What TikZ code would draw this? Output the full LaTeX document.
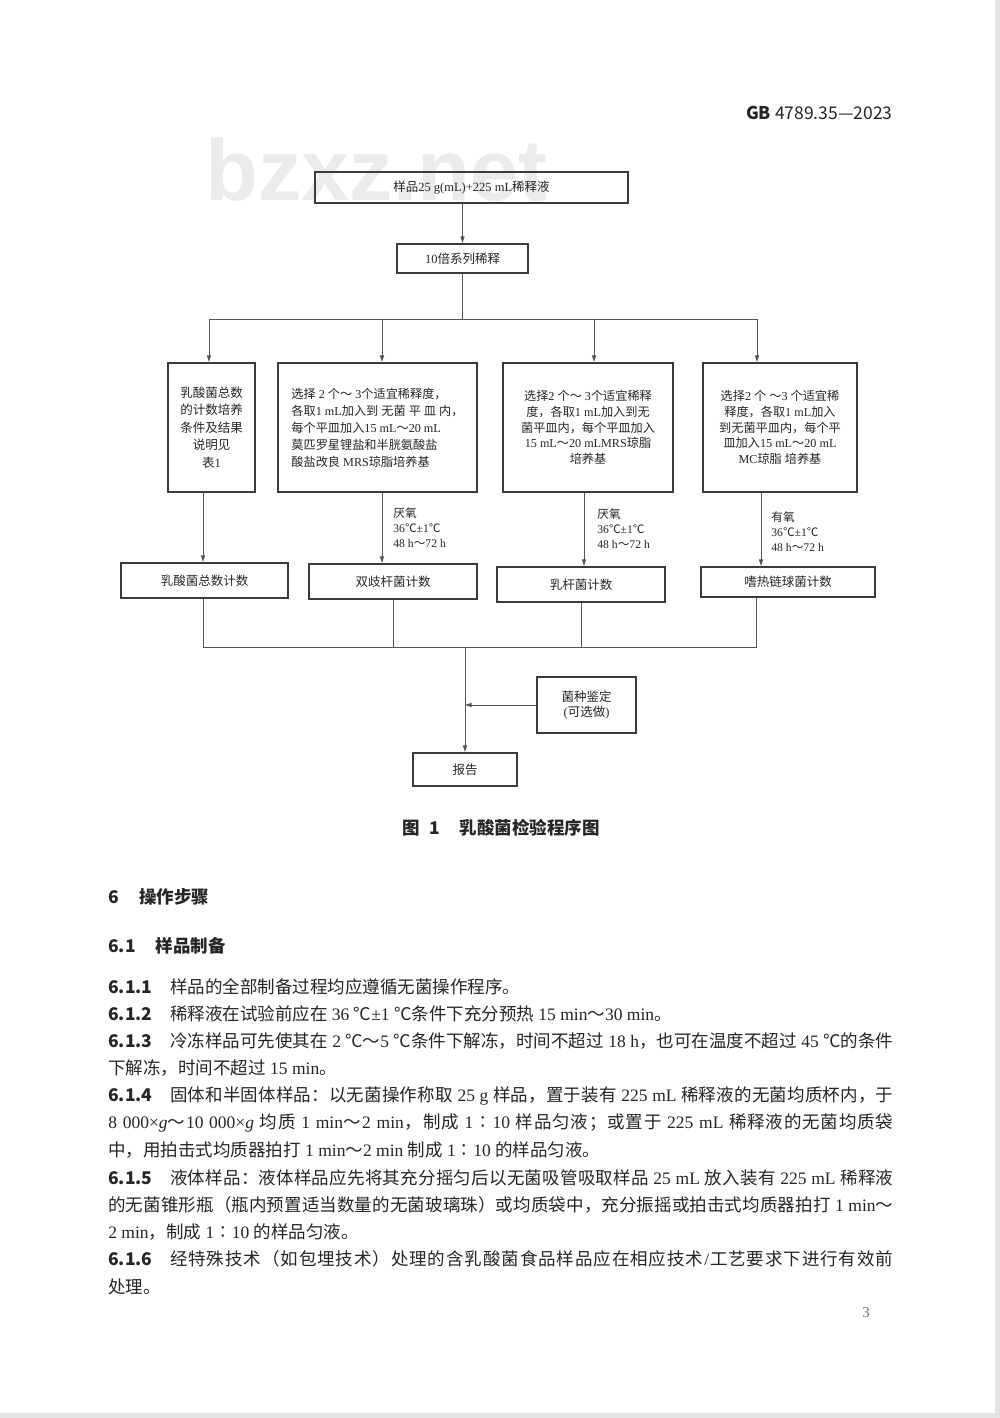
\documentclass[tikz,border=0pt]{standalone}
\usepackage{fontspec}
\usetikzlibrary{arrows.meta}
\setmainfont{Liberation Serif}
\newfontfamily\cjk{Noto Sans CJK SC}
\newfontfamily\lserif{Liberation Serif}
\newfontfamily\lsans{Liberation Sans}
\definecolor{boxc}{HTML}{3C3C3C}
\definecolor{linec}{HTML}{555555}
\definecolor{txtc}{HTML}{262626}
\definecolor{wmc}{HTML}{EBEBEB}
\definecolor{edgec}{HTML}{E4E4E4}
\definecolor{pgc}{HTML}{777777}

\makeatletter
\newXeTeXintercharclass\CJKcls
\count@="3000 \loop\ifnum\count@<"3040 \XeTeXcharclass\count@=\CJKcls\relax\advance\count@\@ne\repeat
\count@="4E00 \loop\ifnum\count@<"A000 \XeTeXcharclass\count@=\CJKcls\relax\advance\count@\@ne\repeat
\count@="FF00 \loop\ifnum\count@<"FFF0 \XeTeXcharclass\count@=\CJKcls\relax\advance\count@\@ne\repeat
\XeTeXcharclass"2103=\CJKcls\relax
\XeTeXcharclass"2236=\CJKcls\relax
\makeatother

\newcommand\latfont{\lserif}
\newcommand\cjkglue{\hskip 0pt plus 0.8pt minus 0.2pt\relax}
\XeTeXinterchartoks 0 \CJKcls = {\cjkglue\cjk}
\XeTeXinterchartoks 4095 \CJKcls = {\cjk}
\XeTeXinterchartoks \CJKcls 0 = {\cjkglue\latfont}
\XeTeXinterchartoks \CJKcls 4095 = {\latfont}
\XeTeXinterchartoks \CJKcls \CJKcls = {\cjkglue}
\XeTeXinterchartokenstate=1

\newcommand\dfont{\fontsize{7.5}{10.3}\selectfont}
\newcommand\lfont{\fontsize{7}{9}\selectfont}
\newcommand\bodyfont{\fontsize{10.5}{12}\selectfont}
\newcommand\parnum[1]{{\def\latfont{\cjk}\cjk\bfseries #1}\hspace{1em}}
\newcommand\jl[1]{\hbox to 471pt{#1}}

\begin{document}
\begin{tikzpicture}[x=0.6pt,y=-0.6pt,
  box/.style={draw=boxc, line width=1.1pt, inner sep=0pt, font=\dfont, text=txtc, align=center},
  conn/.style={draw=linec, line width=0.55pt},
  arr/.style={conn, -{Triangle[length=4pt,width=2.4pt]}},
  lab/.style={font=\lfont, align=left, inner sep=0pt, text=txtc, anchor=west},
  bodyl/.style={anchor=west, inner sep=0pt, text=txtc, font=\bodyfont},
]
\useasboundingbox (0,0) rectangle (1000,1418);
\fill[white] (0,0) rectangle (1000,1418);
% faint page edges of the scan
\fill[edgec] (995,0) rectangle (1000,1418);
\fill[edgec] (0,1413) rectangle (1000,1418);

% watermark
\node[anchor=base west, inner sep=0pt, text=wmc, font=\lsans\bfseries\fontsize{52}{52}\selectfont] (wm) at (205,200) {bzxz.net};

% header
\node[anchor=east, inner sep=0pt, text=txtc] (hdr) at (893,113) {\def\latfont{\cjk}\cjk\fontsize{10.5}{12}\selectfont{\bfseries GB} 4789.35—2023};

% flowchart boxes
\node[box, minimum width=187.8pt, minimum height=18.6pt] (s) at (471.5,187.5) {样品25 g(mL)+225 mL稀释液};
\node[box, minimum width=78.6pt, minimum height=17.4pt] (d) at (462.5,258.5) {10倍系列稀释};

\node[box, minimum width=52.2pt, minimum height=77.4pt, font=\fontsize{7.5}{10.5}\selectfont] (a) at (211.5,427.5) {乳酸菌总数\\的计数培养\\条件及结果\\说明见\\表1};
\node[box, minimum width=119.4pt, minimum height=77.4pt, align=left, font=\fontsize{7.3}{10.2}\selectfont] (b) at (377.5,427.5) {选择 2 个～ 3个适宜稀释度，\\各取1 mL加入到 无菌 平 皿 内，\\每个平皿加入15 mL～20 mL\\莫匹罗星锂盐和半胱氨酸盐\\酸盐改良 MRS琼脂培养基};
\node[box, minimum width=102pt, minimum height=77.4pt, font=\fontsize{7.3}{9.5}\selectfont] (c) at (588,427.5) {选择2 个～ 3个适宜稀释\\度，各取1 mL加入到无\\菌平皿内，每个平皿加入\\15 mL～20 mLMRS琼脂\\培养基};
\node[box, minimum width=92.4pt, minimum height=77.4pt, font=\fontsize{7.3}{9.5}\selectfont] (dd) at (780,427.5) {选择2 个 ～3 个适宜稀\\释度，各取1 mL加入\\到无菌平皿内，每个平\\皿加入15 mL～20 mL\\MC琼脂 培养基};

\node[box, minimum width=100.2pt, minimum height=21pt] (e) at (204.5,580.5) {乳酸菌总数计数};
\node[box, minimum width=100.8pt, minimum height=21pt] (f) at (393,581.5) {双歧杆菌计数};
\node[box, minimum width=100.8pt, minimum height=21pt] (g) at (581,584.5) {乳杆菌计数};
\node[box, minimum width=104.4pt, minimum height=18pt] (h) at (788,582) {嗜热链球菌计数};
\node[box, minimum width=59.4pt, minimum height=33.6pt, font=\fontsize{7.5}{9.3}\selectfont] (i) at (586.5,705) {菌种鉴定\\(可选做)};
\node[box, minimum width=62.4pt, minimum height=19.8pt] (r) at (465,769.5) {报告};

% condition labels
\node[lab] (l1) at (393,528) {厌氧\\36℃±1℃\\48 h～72 h};
\node[lab] (l2) at (597,529) {厌氧\\36℃±1℃\\48 h～72 h};
\node[lab] (l3) at (771,532) {有氧\\36℃±1℃\\48 h～72 h};

% connectors: top part
\draw[arr] (s.south -| d.north) -- (d.north);
\coordinate (top) at (462.5,319);
\coordinate (ja) at (209,319);
\coordinate (jb) at (382,319);
\coordinate (jc) at (594,319);
\coordinate (jd) at (757,319);
\draw[conn] (d.south) -- (top);
\draw[conn] (ja) -- (jd);
\draw[arr] (ja) -- (ja |- a.north);
\draw[arr] (jb) -- (jb |- b.north);
\draw[arr] (jc) -- (jc |- c.north);
\draw[arr] (jd) -- (jd |- dd.north);

% middle arrows
\coordinate (ua) at (203,0);
\coordinate (ub) at (382,0);
\coordinate (uc) at (584,0);
\coordinate (ud) at (761,0);
\draw[arr] (a.south -| ua) -- (e.north -| ua);
\draw[arr] (b.south -| ub) -- (f.north -| ub);
\draw[arr] (c.south -| uc) -- (g.north -| uc);
\draw[arr] (dd.south -| ud) -- (h.north -| ud);

% bottom collection
\coordinate (ba) at (203,647);
\coordinate (bb) at (393,647);
\coordinate (bc) at (581,647);
\coordinate (bd) at (756,647);
\coordinate (bm) at (465,647);
\coordinate (mi) at (465,705);
\draw[conn] (e.south -| ba) -- (ba) -- (bd) -- (h.south -| bd);
\draw[conn] (f.south -| bb) -- (bb);
\draw[conn] (g.south -| bc) -- (bc);
\draw[arr] (bm) -- (r.north);
\draw[arr] (i.west) -- (mi);

% caption
\node[inner sep=0pt, text=txtc, font=\bodyfont] (cap) at (501,828) {{\def\latfont{\cjk}\cjk\bfseries 图\hspace{0.55em}1\hspace{1.1em}乳酸菌检验程序图}};

% section headings
\node[bodyl] (h6) at (108,897) {{\def\latfont{\cjk}\cjk\bfseries 6\hspace{1.15em}操作步骤}};
\node[bodyl] (h61) at (108,946) {{\def\latfont{\cjk}\cjk\bfseries 6.1\hspace{1.15em}样品制备}};

% body text
\node[bodyl] (p1) at (108,987) {\parnum{6.1.1}样品的全部制备过程均应遵循无菌操作程序。};
\node[bodyl] (p2) at (108,1014) {\parnum{6.1.2}稀释液在试验前应在 36 ℃±1 ℃条件下充分预热 15 min～30 min。};
\node[bodyl] (p3) at (108,1041) {\jl{\parnum{6.1.3}冷冻样品可先使其在 2 ℃～5 ℃条件下解冻，时间不超过 18 h，也可在温度不超过 45 ℃的条件}};
\node[bodyl] (p4) at (108,1068) {下解冻，时间不超过 15 min。};
\node[bodyl] (p5) at (108,1096) {\jl{\parnum{6.1.4}固体和半固体样品：以无菌操作称取 25 g 样品，置于装有 225 mL 稀释液的无菌均质杯内，于}};
\node[bodyl] (p6) at (108,1123) {\jl{8 000×\textit{g}～10 000×\textit{g} 均质 1 min～2 min，制成 1∶10 样品匀液；或置于 225 mL 稀释液的无菌均质袋}};
\node[bodyl] (p7) at (108,1150) {中，用拍击式均质器拍打 1 min～2 min 制成 1∶10 的样品匀液。};
\node[bodyl] (p8) at (108,1178) {\jl{\parnum{6.1.5}液体样品：液体样品应先将其充分摇匀后以无菌吸管吸取样品 25 mL 放入装有 225 mL 稀释液}};
\node[bodyl] (p9) at (108,1205) {\jl{的无菌锥形瓶（瓶内预置适当数量的无菌玻璃珠）或均质袋中，充分振摇或拍击式均质器拍打 1 min～}};
\node[bodyl] (p10) at (108,1232) {2 min，制成 1∶10 的样品匀液。};
\node[bodyl] (p11) at (108,1259) {\jl{\parnum{6.1.6}经特殊技术（如包埋技术）处理的含乳酸菌食品样品应在相应技术/工艺要求下进行有效前}};
\node[bodyl] (p12) at (108,1287) {处理。};

% page number
\node[inner sep=0pt, text=pgc, font=\fontsize{9}{10}\selectfont] (pg) at (866,1313) {3};
\end{tikzpicture}
\end{document}
